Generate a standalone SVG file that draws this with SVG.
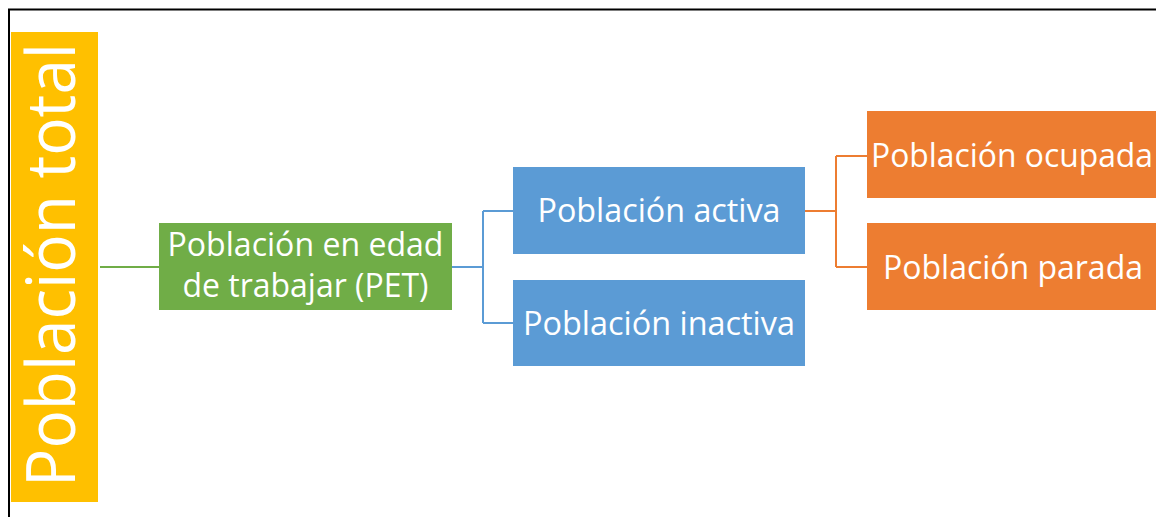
<svg xmlns="http://www.w3.org/2000/svg" width="1156" height="517" viewBox="0 0 1156 517">
<style>
.t{font-family:"Open Sans","Noto Sans","Liberation Sans",sans-serif;fill:#fff;font-size:33.5px;text-anchor:middle}
.c{fill:none;stroke-width:2}
</style>
<rect x="0" y="0" width="1156" height="517" fill="#fff"/>
<rect x="9" y="9.5" width="1200" height="600" fill="none" stroke="#000" stroke-width="2"/>
<g id="connectors">
<path class="c" stroke="#70AD47" d="M100 267H159"/>
<path class="c" stroke="#5B9BD5" d="M452 267H483M483 211V323M483 211H513M483 323H513"/>
<path class="c" stroke="#ED7D31" d="M805 211H836M836 156V267M836 156H867M836 267H867"/>
</g>
<g id="total">
<rect x="11" y="32" width="87" height="470" fill="#FFC000"/>
<text class="t" transform="translate(75,265) rotate(-90)" style="font-size:67px" textLength="444" lengthAdjust="spacingAndGlyphs">Población total</text>
</g>
<g id="pet">
<rect x="159" y="223" width="293" height="87" fill="#70AD47"/>
<text class="t" x="305.5" y="256" textLength="276" lengthAdjust="spacingAndGlyphs">Población en edad</text>
<text class="t" x="305.5" y="297" textLength="246" lengthAdjust="spacingAndGlyphs">de trabajar (PET)</text>
</g>
<g id="activa">
<rect x="513" y="167" width="292" height="87" fill="#5B9BD5"/>
<text class="t" x="659" y="222" textLength="243" lengthAdjust="spacingAndGlyphs">Población activa</text>
</g>
<g id="inactiva">
<rect x="513" y="280" width="292" height="86" fill="#5B9BD5"/>
<text class="t" x="659" y="335" textLength="272" lengthAdjust="spacingAndGlyphs">Población inactiva</text>
</g>
<g id="ocupada">
<rect x="867" y="111" width="300" height="87" fill="#ED7D31"/>
<text class="t" x="1012" y="167" textLength="282" lengthAdjust="spacingAndGlyphs">Población ocupada</text>
</g>
<g id="parada">
<rect x="867" y="223" width="300" height="87" fill="#ED7D31"/>
<text class="t" x="1013" y="279" textLength="260" lengthAdjust="spacingAndGlyphs">Población parada</text>
</g>
</svg>
